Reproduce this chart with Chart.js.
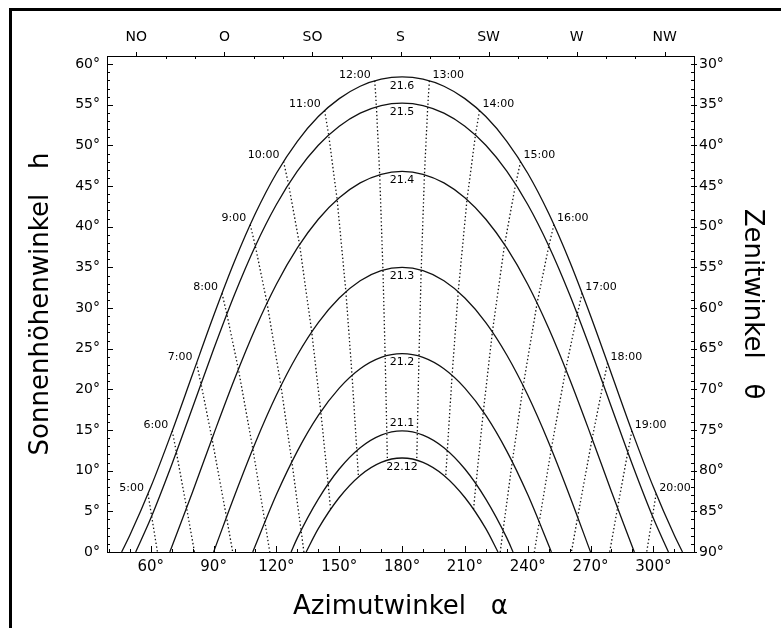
<!DOCTYPE html>
<html>
<head>
<meta charset="utf-8">
<script src="https://cdn.jsdelivr.net/npm/chart.js@4.4.1/dist/chart.umd.min.js"></script>
<style>
  html, body { margin: 0; padding: 0; background: #fff; }
  #wrap { position: relative; width: 781px; height: 628px; overflow: hidden; }
  #frame { position: absolute; left: 9px; top: 8px; right: -5px; bottom: -5px;
           border-left: 3px solid #000; border-top: 3px solid #000; pointer-events: none; }
</style>
</head>
<body>
<div id="wrap">
  <canvas id="c" width="781" height="628"></canvas>
  <div id="frame"></div>
</div>
<script>
// ---- tick labels ----
const azTickValues = [60, 90, 120, 150, 180, 210, 240, 270, 300];
const elevTickValues = [0, 5, 10, 15, 20, 25, 30, 35, 40, 45, 50, 55, 60];
const zenithTickValues = [30, 35, 40, 45, 50, 55, 60, 65, 70, 75, 80, 85, 90];
const compassAz = [45, 90, 135, 180, 225, 270, 315];
const compassNames = ['NO', 'O', 'SO', 'S', 'SW', 'W', 'NW'];

// ---- day curves (azimuth °, solar altitude °) ----
const curveLabels = ['21.6', '21.5', '21.4', '21.3', '21.2', '21.1', '22.12'];

const az_21_6 = [46.1, 50, 60, 70, 80, 90, 100, 110, 120, 130, 140, 150, 160, 170, 180, 190, 200, 210, 220, 230, 240, 250, 260, 270, 280, 290, 300, 310, 313.9];
const h_21_6  = [0, 2.05, 7.98, 14.71, 21.89, 29.05, 35.75, 41.65, 46.58, 50.51, 53.55, 55.76, 57.28, 58.15, 58.44, 58.15, 57.28, 55.76, 53.55, 50.51, 46.58, 41.65, 35.75, 29.05, 21.89, 14.71, 7.98, 2.05, 0];

const az_21_5 = [52.8, 60, 70, 80, 90, 100, 110, 120, 130, 140, 150, 160, 170, 180, 190, 200, 210, 220, 230, 240, 250, 260, 270, 280, 290, 300, 307.2];
const h_21_5  = [0, 4.14, 10.73, 17.81, 24.93, 31.67, 37.67, 42.74, 46.84, 50.02, 52.36, 53.97, 54.90, 55.20, 54.90, 53.97, 52.36, 50.02, 46.84, 42.74, 37.67, 31.67, 24.93, 17.81, 10.73, 4.14, 0];

const az_21_4 = [69.1, 80, 90, 100, 110, 120, 130, 140, 150, 160, 170, 180, 190, 200, 210, 220, 230, 240, 250, 260, 270, 280, 290.9];
const h_21_4  = [0, 7.42, 14.46, 21.28, 27.52, 32.93, 37.39, 40.92, 43.56, 45.39, 46.45, 46.80, 46.45, 45.39, 43.56, 40.92, 37.39, 32.93, 27.52, 21.28, 14.46, 7.42, 0];

const az_21_3 = [90, 100, 110, 120, 130, 140, 150, 160, 170, 180, 190, 200, 210, 220, 230, 240, 250, 260, 270];
const h_21_3  = [0, 6.93, 13.47, 19.30, 24.23, 28.21, 31.23, 33.35, 34.59, 35.00, 34.59, 33.35, 31.23, 28.21, 24.23, 19.30, 13.47, 6.93, 0];

const az_21_2 = [108.7, 120, 130, 140, 150, 160, 170, 180, 190, 200, 210, 220, 230, 240, 251.3];
const h_21_2  = [0, 7.06, 12.41, 16.80, 20.16, 22.54, 23.94, 24.40, 23.94, 22.54, 20.16, 16.80, 12.41, 7.06, 0];

const az_21_1 = [127.0, 130, 140, 150, 160, 170, 180, 190, 200, 210, 220, 230, 233.0];
const h_21_1  = [0, 1.74, 6.51, 10.21, 12.83, 14.38, 14.90, 14.38, 12.83, 10.21, 6.51, 1.74, 0];

const az_22_12 = [134.2, 140, 150, 160, 170, 180, 190, 200, 210, 220, 225.8];
const h_22_12  = [0, 2.87, 6.70, 9.42, 11.03, 11.56, 11.03, 9.42, 6.70, 2.87, 0];

// ---- hour lines (points on 21.6, 21.5, 21.4, 21.3, 21.2, 21.1, 22.12; last may lie below horizon) ----
const hourLabels = ['5:00', '6:00', '7:00', '8:00', '9:00', '10:00', '11:00', '12:00',
                    '13:00', '14:00', '15:00', '16:00', '17:00', '18:00', '19:00', '20:00'];
const hourLineAz = [
  [58.68, 60.41, 64.87],
  [70.27, 72.22, 77.12, 83.84],
  [81.86, 84.00, 89.25, 96.16, 102.19],
  [94.01, 96.33, 101.84, 108.74, 114.49, 119.53],
  [107.49, 109.93, 115.52, 122.15, 127.37, 131.77, 133.29],
  [123.39, 125.79, 131.05, 136.87, 141.20, 144.70, 145.88],
  [143.02, 144.96, 149.00, 153.18, 156.11, 158.40, 159.16],
  [166.96, 167.75, 169.32, 170.87, 171.92, 172.72, 172.99],
  [193.04, 192.25, 190.68, 189.13, 188.08, 187.28, 187.01],
  [216.98, 215.04, 211.00, 206.82, 203.89, 201.60, 200.84],
  [236.61, 234.21, 228.95, 223.13, 218.80, 215.30, 214.12],
  [252.51, 250.07, 244.48, 237.85, 232.63, 228.23, 226.71],
  [265.99, 263.67, 258.16, 251.26, 245.51, 240.47],
  [278.14, 276.00, 270.75, 263.84, 257.81],
  [289.73, 287.78, 282.88, 276.16],
  [301.32, 299.59, 295.13]
];
const hourLineH = [
  [7.15, 4.41, -2.71],
  [14.90, 12.27, 5.41, -4.29],
  [23.24, 20.68, 13.93, 4.29, -4.42],
  [31.82, 29.26, 22.48, 12.68, 3.73, -4.32],
  [40.26, 37.63, 30.62, 20.44, 11.10, 2.66, -0.31],
  [48.02, 45.23, 37.81, 27.07, 17.25, 8.38, 5.26],
  [54.29, 51.27, 43.33, 32.00, 21.73, 12.48, 9.23],
  [57.96, 54.74, 46.40, 34.66, 24.10, 14.63, 11.30],
  [57.96, 54.74, 46.40, 34.66, 24.10, 14.63, 11.30],
  [54.29, 51.27, 43.33, 32.00, 21.73, 12.48, 9.23],
  [48.02, 45.23, 37.81, 27.07, 17.25, 8.38, 5.26],
  [40.26, 37.63, 30.62, 20.44, 11.10, 2.66, -0.31],
  [31.82, 29.26, 22.48, 12.68, 3.73, -4.32],
  [23.24, 20.68, 13.93, 4.29, -4.42],
  [14.90, 12.27, 5.41, -4.29],
  [7.15, 4.41, -2.71]
];

const curveAz = [az_21_6, az_21_5, az_21_4, az_21_3, az_21_2, az_21_1, az_22_12];
const curveH  = [h_21_6, h_21_5, h_21_4, h_21_3, h_21_2, h_21_1, h_22_12];

const toPoints = (xs, ys) => xs.map((v, i) => ({ x: v, y: ys[i] }));

const datasets = [];
curveLabels.forEach((lab, i) => {
  datasets.push({
    label: lab,
    data: toPoints(curveAz[i], curveH[i]),
    showLine: true,
    borderColor: '#111',
    borderWidth: 1.3,
    pointRadius: 0,
    cubicInterpolationMode: 'monotone',
    clip: 1
  });
});
hourLabels.forEach((lab, i) => {
  datasets.push({
    label: lab,
    data: toPoints(hourLineAz[i], hourLineH[i]),
    showLine: true,
    borderColor: '#111',
    borderWidth: 1.3,
    borderDash: [1.4, 2.4],
    pointRadius: 0,
    tension: 0,
    clip: 1
  });
});

// inward tick marks drawn with the scales' own pixel mapping
const tickMarks = {
  id: 'tickMarks',
  afterDraw(chart) {
    const { ctx, chartArea: a, scales } = chart;
    const { x, x2, y, y2 } = scales;
    ctx.save();
    ctx.strokeStyle = '#000';
    ctx.lineWidth = 1;
    ctx.beginPath();
    const seg = (xa, ya, xb, yb) => { ctx.moveTo(xa, ya); ctx.lineTo(xb, yb); };
    for (let v = 40; v <= x.max; v += 10) {
      const p = Math.round(x.getPixelForValue(v)) + 0.5;
      const L = azTickValues.includes(v) ? 6 : 3;
      seg(p, a.bottom, p, a.bottom - L);
    }
    for (let v = 30; v <= x2.max; v += 15) {
      const p = Math.round(x2.getPixelForValue(v)) + 0.5;
      if (compassAz.includes(v)) seg(p, a.top, p, a.top - 4);
      else seg(p, a.top, p, a.top + 3);
    }
    for (let v = 0; v <= y.max; v += 1) {
      const p = Math.round(y.getPixelForValue(v)) + 0.5;
      const L = elevTickValues.includes(v) ? 6 : 3;
      seg(a.left, p, a.left + L, p);
    }
    for (let v = 29; v <= 90; v += 1) {
      const p = Math.round(y2.getPixelForValue(v)) + 0.5;
      if (zenithTickValues.includes(v)) seg(a.right + 3, p, a.right - 3, p);
      else seg(a.right, p, a.right - 3, p);
    }
    ctx.stroke();
    ctx.restore();
  }
};

// hour and date annotations
const annotations = {
  id: 'annotations',
  afterDatasetsDraw(chart) {
    const { ctx, scales: { x, y } } = chart;
    ctx.save();
    ctx.font = '11px "DejaVu Sans"';
    ctx.fillStyle = '#000';
    ctx.textBaseline = 'middle';
    hourLabels.forEach((lab, i) => {
      const a0 = hourLineAz[i][0];
      const px = x.getPixelForValue(a0);
      const py = y.getPixelForValue(hourLineH[i][0]);
      const am = a0 < 180;
      ctx.textAlign = am ? 'right' : 'left';
      ctx.fillText(lab, px + (am ? -4 : 3), py - 6);
    });
    ctx.textAlign = 'center';
    curveLabels.forEach((lab, i) => {
      const peak = Math.max(...curveH[i]);
      const px = x.getPixelForValue(180);
      const py = y.getPixelForValue(peak);
      ctx.fillText(lab, px, py + (lab === '21.1' ? -8 : 9));
    });
    ctx.restore();
  }
};

Chart.defaults.font.family = '"DejaVu Sans", sans-serif';
Chart.defaults.color = '#000';

const border = { display: true, color: '#000', width: 1 };
const noGrid = { display: false, drawTicks: false };

new Chart(document.getElementById('c'), {
  type: 'scatter',
  data: { datasets },
  options: {
    responsive: false,
    animation: false,
    devicePixelRatio: 1,
    layout: { padding: 0 },
    plugins: { legend: { display: false }, tooltip: { enabled: false } },
    scales: {
      x: {
        type: 'linear', position: 'bottom', min: 39.1, max: 319.4,
        afterBuildTicks: s => { s.ticks = azTickValues.map(v => ({ value: v })); },
        afterFit: s => { s.height = 76; },
        grid: noGrid, border,
        ticks: { callback: v => v + '°', font: { size: 15 }, padding: 6, autoSkip: false, maxRotation: 0 },
        title: { display: true, text: 'Azimutwinkel   α', font: { size: 26 }, padding: { top: 0, bottom: 5 } }
      },
      x2: {
        type: 'linear', position: 'top', axis: 'x', min: 30, max: 330,
        afterBuildTicks: s => { s.ticks = compassAz.map(v => ({ value: v })); },
        afterFit: s => { s.height = 56; },
        grid: noGrid, border,
        ticks: { callback: v => compassNames[compassAz.indexOf(v)], font: { size: 14 }, padding: 10, autoSkip: false, maxRotation: 0 }
      },
      y: {
        type: 'linear', position: 'left', min: 0, max: 61,
        afterBuildTicks: s => { s.ticks = elevTickValues.map(v => ({ value: v })); },
        afterFit: s => { s.width = 107; },
        grid: noGrid, border,
        ticks: { callback: v => v + '°', font: { size: 14 }, padding: 7, autoSkip: false },
        title: { display: true, text: 'Sonnenhöhenwinkel   h', font: { size: 26 }, padding: { top: 26, bottom: 0 } }
      },
      y2: {
        type: 'linear', position: 'right', axis: 'y', min: 29, max: 90, reverse: true,
        afterBuildTicks: s => { s.ticks = zenithTickValues.map(v => ({ value: v })); },
        afterFit: s => { s.width = 87; },
        grid: noGrid, border,
        ticks: { callback: v => v + '°', font: { size: 14 }, padding: 5, autoSkip: false },
        title: { display: true, text: 'Zenitwinkel   θ', font: { size: 26 }, padding: { top: 14, bottom: 0 } }
      }
    }
  },
  plugins: [tickMarks, annotations]
});
</script>
</body>
</html>
